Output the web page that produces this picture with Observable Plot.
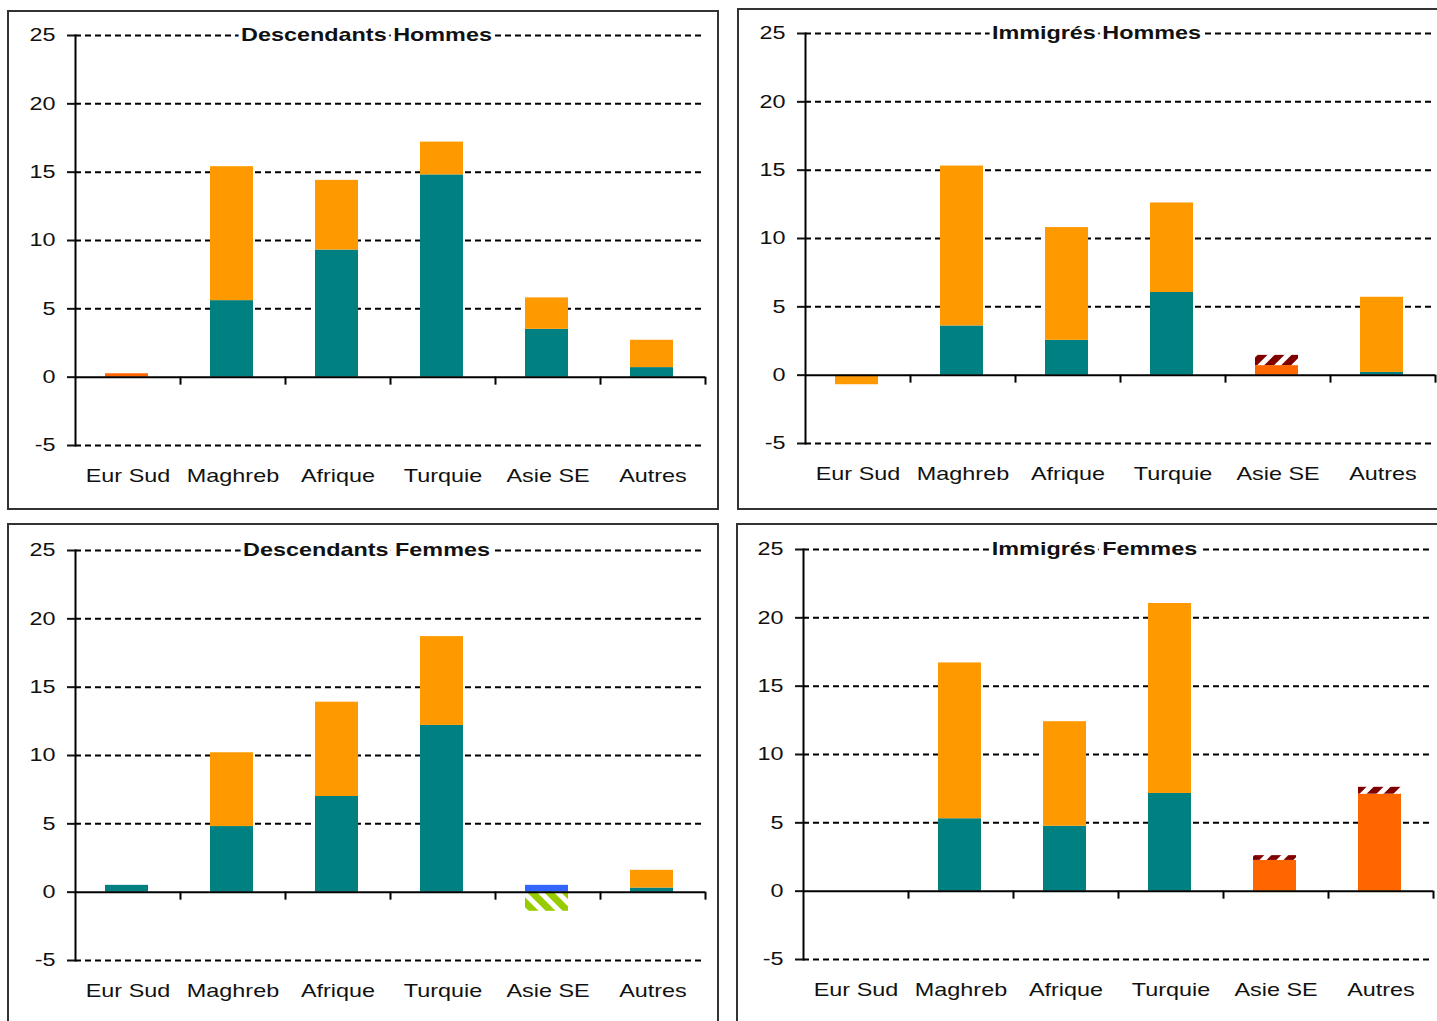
<!DOCTYPE html>
<html><head><meta charset="utf-8">
<script src="https://cdn.jsdelivr.net/npm/d3@7"></script>
<script src="https://cdn.jsdelivr.net/npm/@observablehq/plot@0.6"></script>
<style>
html,body{margin:0;padding:0;background:#fff;width:1437px;height:1021px;overflow:hidden;position:relative;}
.border{position:absolute;border:2px solid #333;box-sizing:border-box;}
.plot{position:absolute;}
</style></head><body>
<svg width="0" height="0" style="position:absolute;left:0;top:0">
<defs>
<pattern id="hatchRed" patternUnits="userSpaceOnUse" width="12" height="12" patternTransform="rotate(45)">
<rect width="12" height="12" fill="#fff"/><rect width="7" height="12" fill="#800000"/>
</pattern>
<pattern id="hatchGreen" patternUnits="userSpaceOnUse" width="12" height="12" patternTransform="rotate(-45)">
<rect width="12" height="12" fill="#fff"/><rect width="7" height="12" fill="#99CC00"/>
</pattern>
</defs>
</svg>
<div id="root"></div>
<script>
// ---- data ----
const categories = ["Eur Sud", "Maghreb", "Afrique", "Turquie", "Asie SE", "Autres"];
const yTicks = [-5, 0, 5, 10, 15, 20, 25];
const seriesNames = ["teal", "orange", "rouge", "rougeHachuré", "bleu", "vertHachuré"];
const seriesFills = ["#008080", "#FF9900", "#FF6600", "url(#hatchRed)", "#3366FF", "url(#hatchGreen)"];
const panelTitles = ["Descendants Hommes", "Immigrés Hommes", "Descendants Femmes", "Immigrés Femmes"];

// Descendants Hommes
const descHommesTeal   = [0, 5.6, 9.3, 14.8, 3.5, 0.7];
const descHommesOrange = [0, 9.8, 5.1, 2.4, 2.3, 2.0];
const descHommesRouge  = [0.25, 0, 0, 0, 0, 0];
// Immigrés Hommes
const immHommesTeal    = [0, 3.6, 2.55, 6.05, 0, 0.2];
const immHommesOrange  = [-0.7, 11.7, 8.25, 6.55, 0, 5.5];
const immHommesRouge   = [0, 0, 0, 0, 0.7, 0];
const immHommesHachure = [0, 0, 0, 0, 0.75, 0];
// Descendants Femmes
const descFemmesTeal   = [0.5, 4.8, 7.0, 12.2, 0, 0.3];
const descFemmesOrange = [0, 5.4, 6.9, 6.5, 0, 1.3];
const descFemmesBleu   = [0, 0, 0, 0, 0.5, 0];
const descFemmesVert   = [0, 0, 0, 0, -1.4, 0];
// Immigrés Femmes
const immFemmesTeal    = [0, 5.3, 4.75, 7.15, 0, 0];
const immFemmesOrange  = [0, 11.4, 7.65, 13.9, 0, 0];
const immFemmesRouge   = [0, 0, 0, 0, 2.25, 7.1];
const immFemmesHachure = [0, 0, 0, 0, 0.35, 0.5];

const panelSeries = [
  {teal: descHommesTeal, orange: descHommesOrange, rouge: descHommesRouge},
  {teal: immHommesTeal, orange: immHommesOrange, rouge: immHommesRouge, "rougeHachuré": immHommesHachure},
  {teal: descFemmesTeal, orange: descFemmesOrange, bleu: descFemmesBleu, "vertHachuré": descFemmesVert},
  {teal: immFemmesTeal, orange: immFemmesOrange, rouge: immFemmesRouge, "rougeHachuré": immFemmesHachure}
];

// ---- layout ----
const borders = [
  {left: 7, top: 10, width: 712, height: 500},
  {left: 737, top: 8, width: 720, height: 502},
  {left: 7, top: 523, width: 712, height: 520},
  {left: 736, top: 523, width: 720, height: 520}
];
const svgPos = [
  {left: 9, top: 11},
  {left: 739, top: 9},
  {left: 9, top: 526},
  {left: 737, top: 525}
];

const root = document.getElementById("root");
const W = 708, H = 496, ML = 66, MR = 12, MT = 24, MB = 62;
const step = (W - ML - MR) / categories.length;
const pxPerUnit = (H - MT - MB) / (yTicks[yTicks.length - 1] - yTicks[0]);
const stretch = 1.3;

panelTitles.forEach((title, p) => {
  const b = document.createElement("div");
  b.className = "border";
  Object.assign(b.style, {left: borders[p].left + "px", top: borders[p].top + "px", width: borders[p].width + "px", height: borders[p].height + "px"});
  root.appendChild(b);

  const rows = [];
  seriesNames.forEach(s => {
    const arr = panelSeries[p][s];
    if (!arr) return;
    arr.forEach((v, i) => { if (v !== 0) rows.push({cat: categories[i], series: s, value: v}); });
  });

  const svg = Plot.plot({
    width: W, height: H,
    marginLeft: ML, marginRight: MR, marginTop: MT, marginBottom: MB,
    style: {fontFamily: "'Liberation Sans', Arial, sans-serif", fontSize: "18px", color: "#111", background: "transparent"},
    x: {domain: categories, paddingInner: 0.59, paddingOuter: 0.295, label: null},
    y: {domain: [yTicks[0], yTicks[yTicks.length - 1]], label: null},
    color: {type: "ordinal", domain: seriesNames, range: seriesFills},
    marks: [
      Plot.ruleY(yTicks.filter(t => t !== 0), {stroke: "#000", strokeWidth: 2, strokeDasharray: "6,4"}),
      Plot.barY(rows, {x: "cat", y: "value", fill: "series", order: seriesNames, dx: -1}),
      Plot.ruleY([0], {stroke: "#000", strokeWidth: 2}),
      Plot.ruleX(categories, {x: d => d, dx: step / 2, y1: 0, y2: -8 / pxPerUnit, stroke: "#000", strokeWidth: 2}),
      Plot.frame({anchor: "left", stroke: "#000", strokeWidth: 2}),
      Plot.axisY({ticks: yTicks, tickSize: 8, tickPadding: 12, strokeWidth: 2, tickFormat: d => String(d), fontSize: 18, fill: "#111"}),
      Plot.axisX({tickSize: 0, tickPadding: 24, fontSize: 18, fill: "#111"}),
      Plot.text([title], {text: d => d, frameAnchor: "top", lineAnchor: "middle", dx: -24, fontWeight: "bold", fontSize: 18, fill: "#111", stroke: "white", strokeWidth: 6, ariaLabel: "panel-title"})
    ]
  });
  svg.classList.add("plot");
  svg.style.left = svgPos[p].left + "px";
  svg.style.top = svgPos[p].top + "px";
  svg.style.position = "absolute";
  // horizontally stretched lettering, as in the reference
  d3.select(svg).selectAll("text").each(function() {
    const t = this.getAttribute("transform") || "";
    const xa = this.getAttribute("x");
    if (xa !== null && /^-?[\d.]+$/.test(xa)) this.setAttribute("x", (+xa) / stretch);
    this.setAttribute("transform", `${t} scale(${stretch},1)`);
  });
  root.appendChild(svg);
});
</script>
</body></html>
